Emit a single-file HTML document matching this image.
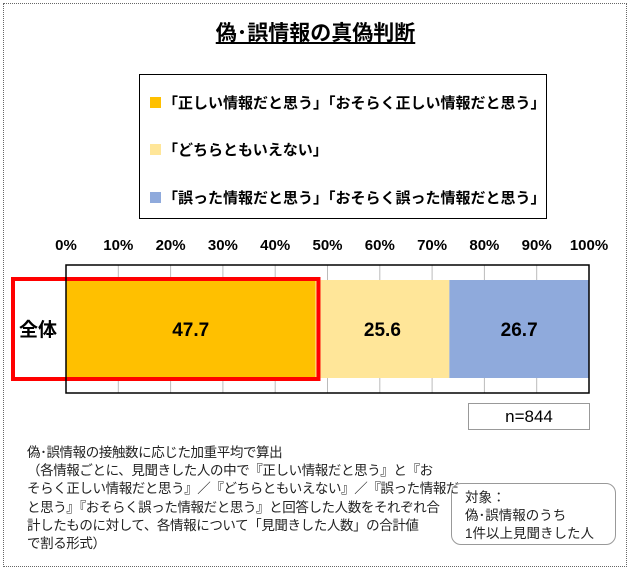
<!DOCTYPE html>
<html><head><meta charset="utf-8">
<style>
body{margin:0;width:631px;height:571px;background:#fff;font-family:"Liberation Sans","Noto Sans CJK JP",sans-serif;overflow:hidden}
.abs{position:absolute}
</style></head>
<body>
<div class="abs" style="left:3px;top:3px;width:622px;height:562px;border:1px dotted #666"></div>
<div class="abs" style="left:0;width:631px;top:17px;text-align:center;font-size:21px;font-weight:bold;"><span style="text-decoration:underline">偽･誤情報の真偽判断</span></div>
<div class="abs" style="left:139px;top:74px;width:406px;height:143px;border:1px solid #000;font-size:15px;font-weight:bold">
 <div style="position:absolute;left:10px;top:17px;white-space:nowrap"><span style="display:inline-block;width:11px;height:11px;background:#FFC000;margin-right:2px"></span>「正しい情報だと思う」「おそらく正しい情報だと思う」</div>
 <div style="position:absolute;left:10px;top:64px;white-space:nowrap"><span style="display:inline-block;width:11px;height:11px;background:#FFE699;margin-right:2px"></span>「どちらともいえない」</div>
 <div style="position:absolute;left:10px;top:112px;white-space:nowrap"><span style="display:inline-block;width:11px;height:11px;background:#8FAADC;margin-right:2px"></span>「誤った情報だと思う」「おそらく誤った情報だと思う」</div>
</div>
<svg class="abs" style="left:0;top:0" width="631" height="571" id="chart"></svg>
<div class="abs" style="left:468px;top:403px;width:120px;height:25px;border:1px solid #999;font-size:17px;text-align:center;line-height:25px">n=844</div>
<div class="abs" style="left:27px;top:444px;white-space:nowrap;font-size:13.5px;line-height:18.2px;color:#222;letter-spacing:-0.4px">偽･誤情報の接触数に応じた加重平均で算出<br>（各情報ごとに、見聞きした人の中で『正しい情報だと思う』と『お<br>そらく正しい情報だと思う』／『どちらともいえない』／『誤った情報だ<br>と思う』『おそらく誤った情報だと思う』と回答した人数をそれぞれ合<br>計したものに対して、各情報について「見聞きした人数」の合計値<br>で割る形式）</div>
<div class="abs" style="left:451px;top:483px;width:165px;height:62px;border:1px solid #999;border-radius:10px;font-size:13.5px;line-height:18px;padding-left:13px;box-sizing:border-box;padding-top:5px;color:#222">対象：<br>偽･誤情報のうち<br>1件以上見聞きした人</div>
<script>
const categories=["全体"];
const seriesTrue=[47.7];
const seriesNeutral=[25.6];
const seriesFalse=[26.7];
const tickLabels=["0%","10%","20%","30%","40%","50%","60%","70%","80%","90%","100%"];
const tickValues=[0,10,20,30,40,50,60,70,80,90,100];
const svg=document.getElementById('chart');
const NS='http://www.w3.org/2000/svg';
const x0=66,x1=589,plotTop=265,plotBot=393;
const xs=v=>x0+(x1-x0)*v/100;
function mk(t,a){const e=document.createElementNS(NS,t);for(const k in a)e.setAttribute(k,a[k]);svg.appendChild(e);return e;}
tickValues.forEach((v,i)=>{
 const g=mk('line',{x1:xs(v),x2:xs(v),y1:plotTop,y2:plotBot,stroke:'#bbb','stroke-width':1});
 
 
 const t=mk('text',{x:xs(v),y:250,'text-anchor':'middle','font-size':15,'font-weight':'bold'});
 t.textContent=tickLabels[i];
 
 
});
const cols=['#FFC000','#FFE699','#8FAADC'];
const bandH=98,by=280;
categories.forEach((c,i)=>{
 const vals=[seriesTrue[i],seriesNeutral[i],seriesFalse[i]];
 let acc=0;
 vals.forEach((v,j)=>{
  const r=mk('rect',{x:xs(acc),y:by,width:xs(acc+v)-xs(acc),height:bandH,fill:cols[j]});
  
  
  const t=mk('text',{x:(xs(acc)+xs(acc+v))/2,y:by+bandH/2+7,'text-anchor':'middle','font-size':19,'font-weight':'bold'});
  t.textContent=v.toFixed(1);
  
  
  acc+=v;
 });
 const l=mk('text',{x:38,y:by+bandH/2+7,'text-anchor':'middle','font-size':19,'font-weight':'bold'});
 l.textContent=c;
 
 
 const hb=mk('rect',{x:13,y:by-1,width:xs(seriesTrue[i])-13+3,height:bandH+2,fill:'none',stroke:'#FF0000','stroke-width':4});
 
 
});
const fr=mk('path',{d:`M${x0} ${plotTop}H${x1}V${plotBot}H${x0}Z`,fill:'none',stroke:'#000','stroke-width':1.5});


</script>
</body></html>
